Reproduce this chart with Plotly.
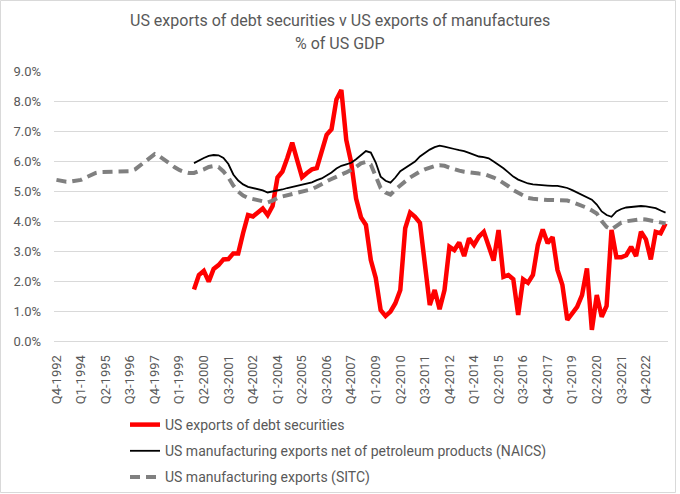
import plotly.graph_objects as go

# Categories: quarterly, Q4-1992 .. Q4-2023
quarters = []
y, q = 1992, 4
while (y, q) <= (2023, 4):
    quarters.append(f"Q{q}-{y}")
    q += 1
    if q > 4:
        q = 1
        y += 1

tick_labels = ["Q4-1992", "Q1-1994", "Q2-1995", "Q3-1996", "Q4-1997", "Q1-1999",
               "Q2-2000", "Q3-2001", "Q4-2002", "Q1-2004", "Q2-2005", "Q3-2006",
               "Q4-2007", "Q1-2009", "Q2-2010", "Q3-2011", "Q4-2012", "Q1-2014",
               "Q2-2015", "Q3-2016", "Q4-2017", "Q1-2019", "Q2-2020", "Q3-2021",
               "Q4-2022"]

# US manufacturing exports (SITC), % of GDP, Q4-1992 .. Q4-2023
sitc = [5.37, 5.33, 5.31, 5.32, 5.34, 5.37, 5.45, 5.53, 5.60, 5.63,
        5.64, 5.64, 5.63, 5.64, 5.65, 5.66, 5.72, 5.85, 5.98, 6.12,
        6.23, 6.15, 6.05, 5.92, 5.80, 5.70, 5.64, 5.60, 5.60, 5.65,
        5.72, 5.80, 5.83, 5.80, 5.65, 5.45, 5.18, 4.98, 4.85, 4.77,
        4.73, 4.70, 4.66, 4.62, 4.68, 4.77, 4.82, 4.86, 4.90, 4.93,
        4.96, 5.00, 5.06, 5.14, 5.24, 5.32, 5.40, 5.46, 5.55, 5.62,
        5.70, 5.80, 5.92, 5.97, 5.88, 5.45, 5.10, 4.95, 4.88, 5.05,
        5.20, 5.32, 5.45, 5.57, 5.65, 5.72, 5.78, 5.83, 5.86, 5.84,
        5.78, 5.72, 5.68, 5.64, 5.61, 5.59, 5.58, 5.57, 5.52, 5.45,
        5.37, 5.27, 5.16, 5.03, 4.94, 4.85, 4.77, 4.74, 4.72, 4.71,
        4.70, 4.70, 4.70, 4.69, 4.68, 4.63, 4.57, 4.51, 4.44, 4.35,
        4.25, 4.00, 3.80, 3.72, 3.85, 3.95, 3.99, 4.02, 4.05, 4.06,
        4.05, 4.02, 3.98, 3.95, 3.92]

# Series starting Q4-1999
start_quarter = "Q4-1999"

# US manufacturing exports net of petroleum products (NAICS), % of GDP
naics = [5.93, 6.02, 6.10, 6.17, 6.20, 6.19, 6.10, 5.90, 5.55, 5.35,
         5.22, 5.14, 5.10, 5.06, 5.02, 4.95, 4.98, 5.02, 5.05, 5.10,
         5.14, 5.16, 5.20, 5.24, 5.29, 5.36, 5.42, 5.52, 5.62, 5.75,
         5.84, 5.89, 5.94, 6.06, 6.20, 6.33, 6.28, 5.95, 5.48, 5.34,
         5.28, 5.45, 5.66, 5.76, 5.88, 5.98, 6.15, 6.28, 6.38, 6.46,
         6.51, 6.48, 6.43, 6.40, 6.36, 6.33, 6.27, 6.20, 6.15, 6.13,
         6.09, 5.98, 5.87, 5.76, 5.62, 5.48, 5.38, 5.31, 5.25, 5.22,
         5.20, 5.19, 5.18, 5.17, 5.17, 5.14, 5.10, 5.03, 4.95, 4.88,
         4.79, 4.71, 4.55, 4.32, 4.20, 4.14, 4.32, 4.40, 4.45, 4.47,
         4.48, 4.50, 4.49, 4.47, 4.43, 4.35, 4.28]

# US exports of debt securities, % of GDP
debt = [1.72, 2.20, 2.34, 1.98, 2.40, 2.53, 2.72, 2.73, 2.92, 2.92,
        3.60, 4.20, 4.15, 4.30, 4.42, 4.20, 4.50, 5.45, 5.65, 6.10,
        6.61, 6.03, 5.46, 5.60, 5.72, 5.76, 6.31, 6.87, 7.06, 8.05,
        8.37, 6.70, 5.95, 4.75, 4.12, 3.87, 2.70, 2.10, 1.03, 0.83,
        0.98, 1.26, 1.70, 3.76, 4.28, 4.14, 3.94, 2.59, 1.20, 1.70,
        1.06, 1.70, 3.14, 3.03, 3.28, 2.83, 3.42, 3.20, 3.48, 3.64,
        3.14, 2.68, 3.70, 2.14, 2.20, 2.06, 0.87, 2.06, 1.94, 2.20,
        3.20, 3.72, 3.26, 3.46, 2.37, 1.87, 0.70, 0.92, 1.14, 1.53,
        2.42, 0.37, 1.53, 0.81, 1.17, 3.70, 2.79, 2.79, 2.86, 3.14,
        2.83, 3.64, 3.39, 2.72, 3.64, 3.59, 3.92]

title_lines = ["US exports of debt securities v US exports of manufactures", "% of US GDP"]

x_late = quarters[quarters.index(start_quarter):]

FONT = "Roboto"
GRAY = "#595959"

fig = go.Figure()
fig.add_trace(go.Scatter(x=x_late, y=debt, mode="lines", name="US exports of debt securities",
                         line=dict(color="#FF0000", width=4.5), legendgroup="a"))
fig.add_trace(go.Scatter(x=x_late, y=naics, mode="lines",
                         name="US manufacturing exports net of petroleum products (NAICS)",
                         line=dict(color="#000000", width=1.8), legendgroup="b"))
fig.add_trace(go.Scatter(x=quarters, y=sitc, mode="lines", name="US manufacturing exports (SITC)",
                         line=dict(color="#808080", width=4, dash="10px,6px"), legendgroup="c"))

L, R, T, B = 54, 12, 71, 153
W, H = 680, 494
pw, ph = W - L - R, H - T - B

def px_x(px):
    return (px - L) / pw

def px_y(py):
    return (H - B - py) / ph

annotations = [
    dict(text=title_lines[0], xref="paper", yref="paper", x=px_x(340), y=px_y(20),
         xanchor="center", yanchor="middle", showarrow=False,
         font=dict(family=FONT, size=16, color=GRAY)),
    dict(text=title_lines[1], xref="paper", yref="paper", x=px_x(340), y=px_y(43),
         xanchor="center", yanchor="middle", showarrow=False,
         font=dict(family=FONT, size=16, color=GRAY)),
]

fig.update_layout(
    width=W, height=H,
    margin=dict(l=L, r=R, t=T, b=B, autoexpand=False),
    paper_bgcolor="white", plot_bgcolor="white",
    font=dict(family=FONT, color=GRAY, size=13),
    xaxis=dict(type="category", categoryorder="array", categoryarray=quarters,
               range=[-0.5, len(quarters) - 0.5],
               tickmode="array", tickvals=tick_labels, ticktext=tick_labels,
               tickangle=-90, showgrid=False, showline=True, linecolor="#D9D9D9",
               ticks="", ticklabelstandoff=8, automargin=False,
               tickfont=dict(size=13, color=GRAY)),
    yaxis=dict(range=[0, 9], dtick=1, tickformat=".1f", ticksuffix="%",
               showgrid=True, gridcolor="#D9D9D9", gridwidth=1, zeroline=False,
               showline=False, ticks="", ticklabelstandoff=12, automargin=False,
               tickfont=dict(size=13, color=GRAY)),
    legend=dict(orientation="v", x=px_x(125), y=px_y(409),
                xanchor="left", yanchor="top",
                font=dict(size=14, color=GRAY), tracegroupgap=5,
                bgcolor="rgba(0,0,0,0)", itemwidth=30),
    showlegend=True,
    annotations=annotations,
    shapes=[dict(type="rect", xref="paper", yref="paper",
                 x0=px_x(0.5), x1=px_x(675.5), y0=px_y(492.5), y1=px_y(0.5),
                 line=dict(color="#D9D9D9", width=1), layer="below")],
)

fig.write_html("out.html", config={"displayModeBar": False},
               post_script="document.body.style.margin='0px';document.body.style.overflow='hidden';")
